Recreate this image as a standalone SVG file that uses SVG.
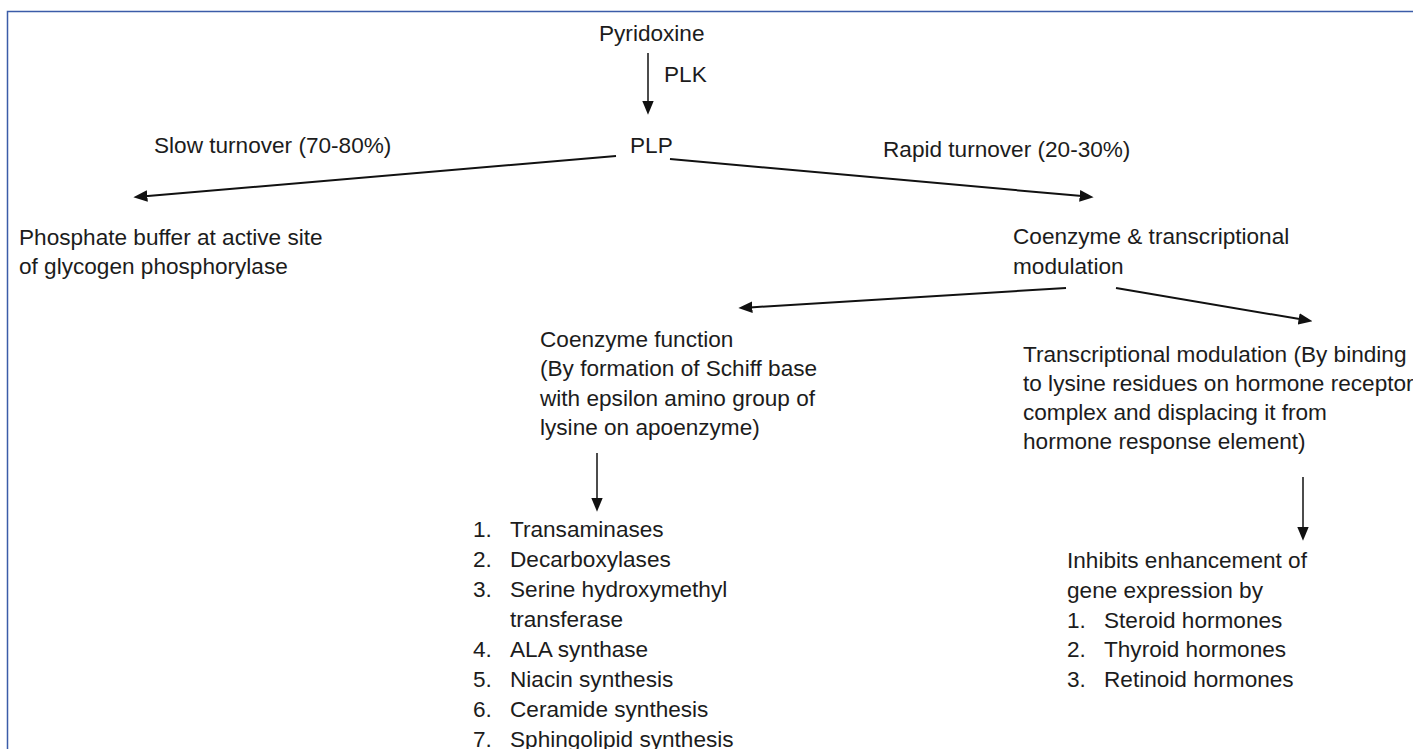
<svg xmlns="http://www.w3.org/2000/svg" width="1413" height="749" viewBox="0 0 1413 749">
<defs>
<style>
text{font-family:"Liberation Sans",Arial,sans-serif;font-size:22.6px;fill:#1c1c1c}
.ln{stroke:#111;fill:none}
.d{stroke-width:2}
.v{stroke-width:1.5}
.frame{stroke:#3b5ca8;stroke-width:1.5;fill:none}
</style>
<marker id="ah" markerUnits="userSpaceOnUse" markerWidth="14" markerHeight="12" viewBox="0 0 12 10" refX="2" refY="5" orient="auto">
<path d="M0,0 L12,5 L0,10 z" fill="#111"/>
</marker>
</defs>
<rect width="1413" height="749" fill="#fff"/>
<path class="frame" d="M7.5,749 L7.5,11.5 L1413,11.5"/>
<g id="connectors">
<line class="ln v" x1="648" y1="53" x2="648" y2="103" marker-end="url(#ah)"/>
<line class="ln d" x1="616" y1="156" x2="145" y2="196.2" marker-end="url(#ah)"/>
<line class="ln d" x1="670" y1="159" x2="1082" y2="196.1" marker-end="url(#ah)"/>
<line class="ln d" x1="1066" y1="288" x2="750" y2="307.4" marker-end="url(#ah)"/>
<line class="ln d" x1="1116" y1="288" x2="1301" y2="319.3" marker-end="url(#ah)"/>
<line class="ln v" x1="597" y1="453" x2="597" y2="500" marker-end="url(#ah)"/>
<line class="ln v" x1="1303" y1="477" x2="1303" y2="529" marker-end="url(#ah)"/>
</g>
<g id="pyridoxine"><text x="599" y="41">Pyridoxine</text></g>
<g id="plk"><text x="664" y="82">PLK</text></g>
<g id="plp"><text x="630" y="153">PLP</text></g>
<g id="slow"><text x="154" y="153">Slow turnover (70-80%)</text></g>
<g id="rapid"><text x="883" y="157">Rapid turnover (20-30%)</text></g>
<g id="phosphate">
<text x="19" y="245">Phosphate buffer at active site</text>
<text x="19" y="274">of glycogen phosphorylase</text>
</g>
<g id="coenzyme-transcriptional">
<text x="1013" y="244">Coenzyme &amp; transcriptional</text>
<text x="1013" y="274">modulation</text>
</g>
<g id="coenzyme-function">
<text x="540" y="347">Coenzyme function</text>
<text x="540" y="376">(By formation of Schiff base</text>
<text x="540" y="406">with epsilon amino group of</text>
<text x="540" y="435">lysine on apoenzyme)</text>
</g>
<g id="transcriptional-modulation">
<text x="1023" y="362">Transcriptional modulation (By binding</text>
<text x="1023" y="391">to lysine residues on hormone receptor</text>
<text x="1023" y="420">complex and displacing it from</text>
<text x="1023" y="449">hormone response element)</text>
</g>
<g id="enzyme-list">
<text x="473" y="537">1.</text><text x="510" y="537">Transaminases</text>
<text x="473" y="567">2.</text><text x="510" y="567">Decarboxylases</text>
<text x="473" y="597">3.</text><text x="510" y="597">Serine hydroxymethyl</text>
<text x="510" y="627">transferase</text>
<text x="473" y="657">4.</text><text x="510" y="657">ALA synthase</text>
<text x="473" y="687">5.</text><text x="510" y="687">Niacin synthesis</text>
<text x="473" y="717">6.</text><text x="510" y="717">Ceramide synthesis</text>
<text x="473" y="747">7.</text><text x="510" y="747">Sphingolipid synthesis</text>
</g>
<g id="inhibits">
<text x="1067" y="568">Inhibits enhancement of</text>
<text x="1067" y="598">gene expression by</text>
<text x="1067" y="628">1.</text><text x="1104" y="628">Steroid hormones</text>
<text x="1067" y="657">2.</text><text x="1104" y="657">Thyroid hormones</text>
<text x="1067" y="687">3.</text><text x="1104" y="687">Retinoid hormones</text>
</g>
</svg>
